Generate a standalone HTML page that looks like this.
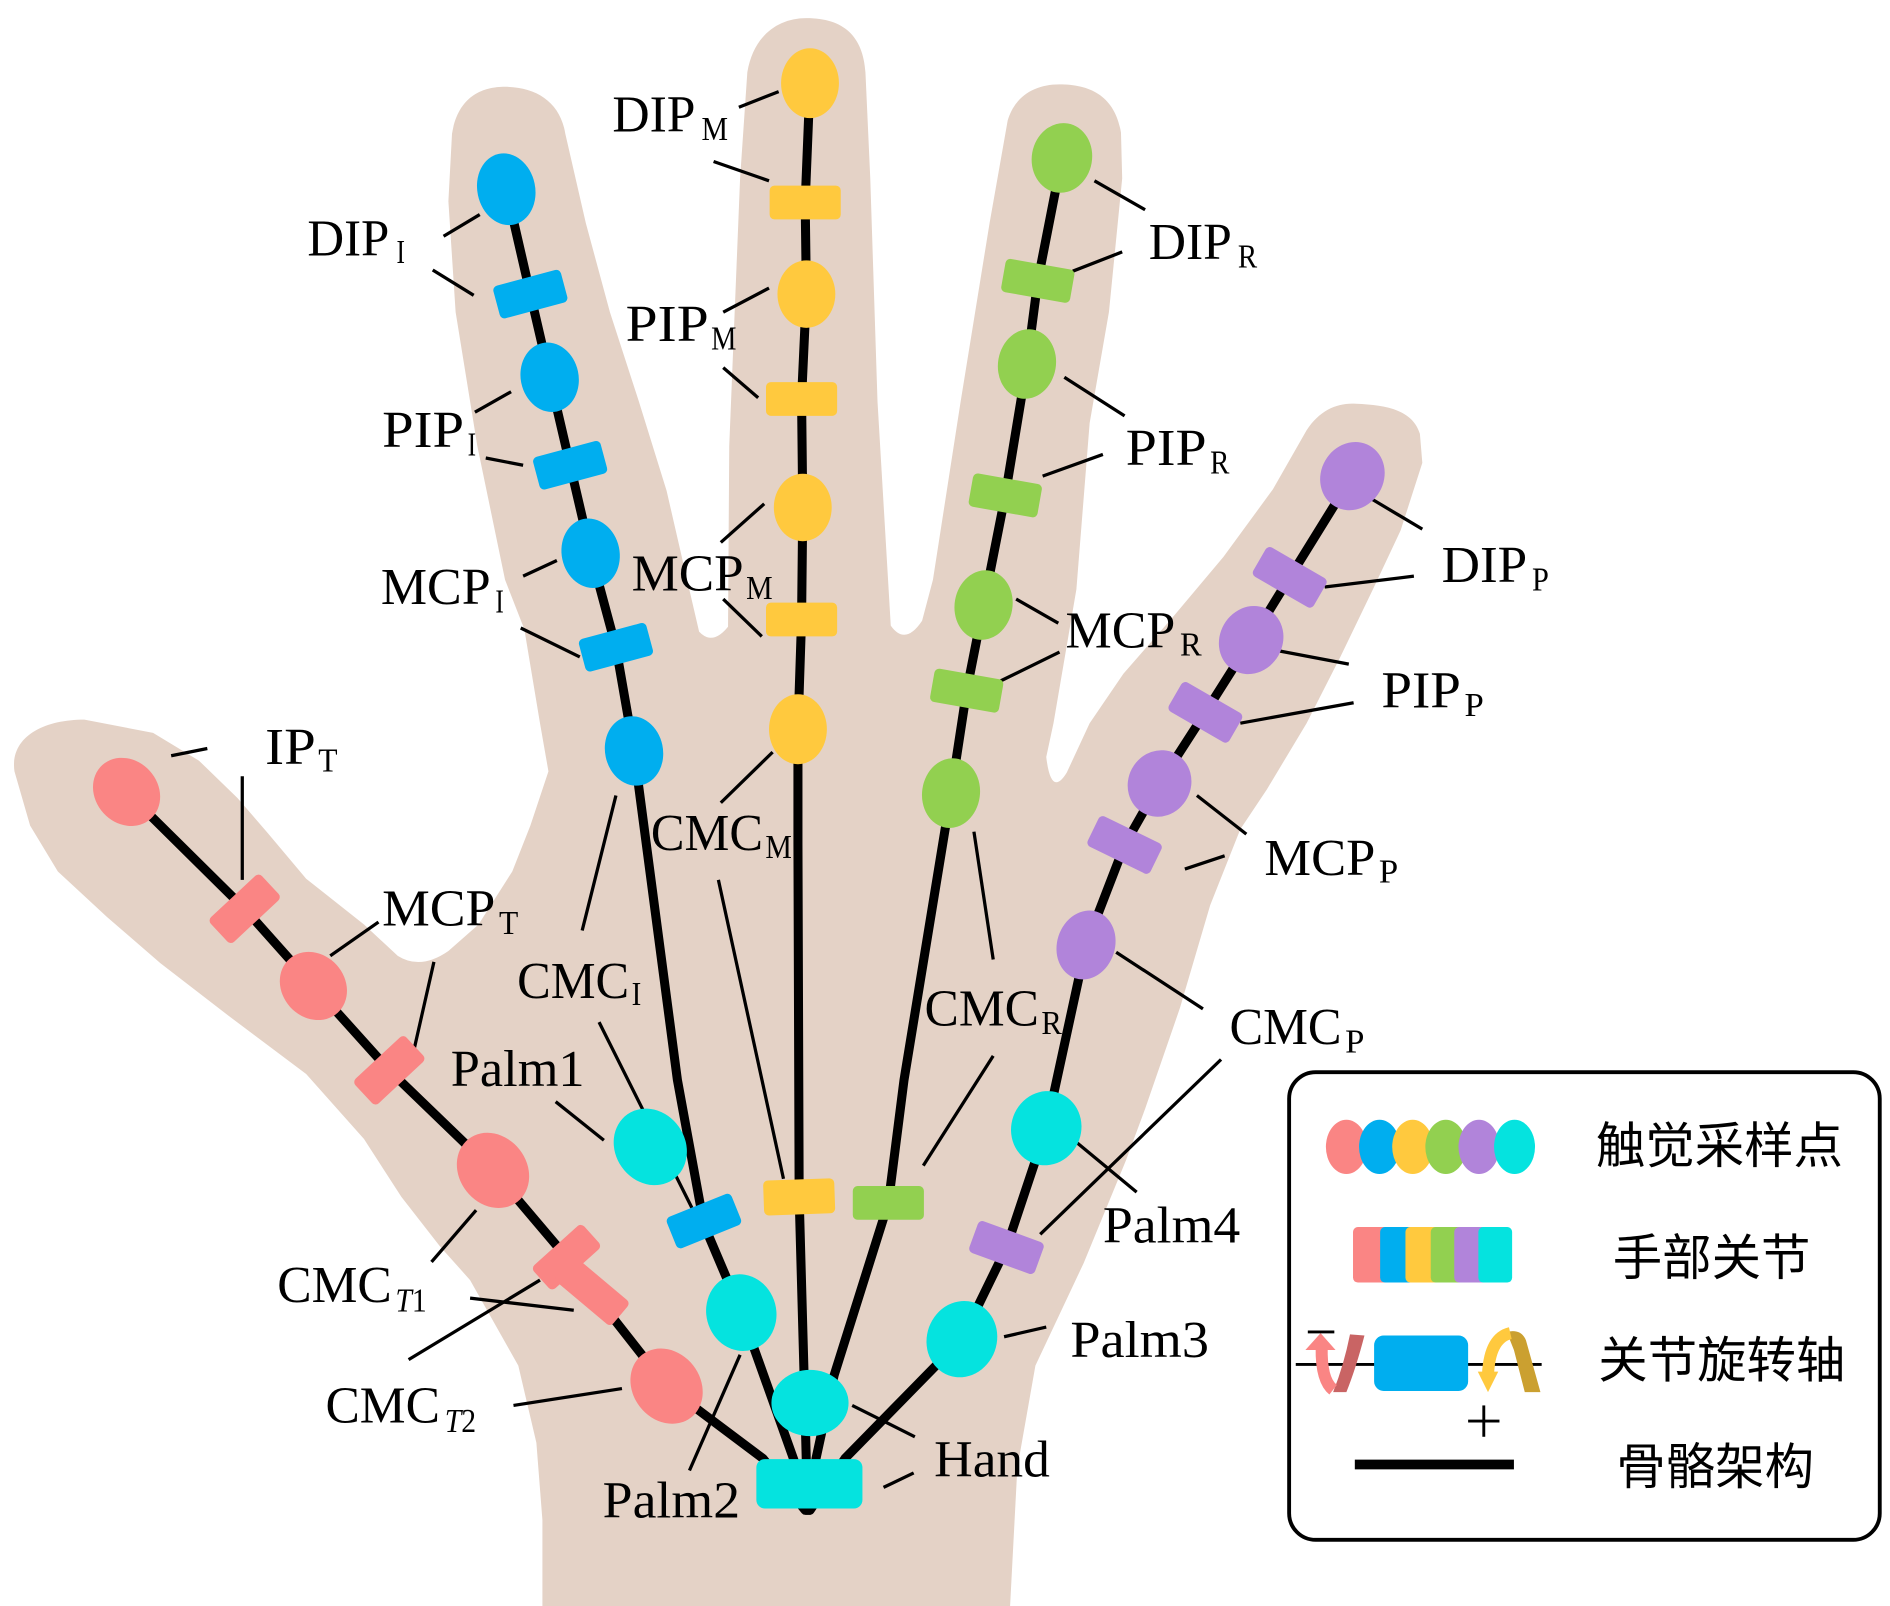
<!DOCTYPE html>
<html><head><meta charset="utf-8"><style>
html,body{margin:0;padding:0;background:#fff;}
svg{display:block;}
.sk{stroke:#000;stroke-width:7.5;fill:none;stroke-linejoin:round;stroke-linecap:round;}
.ld{stroke:#000;stroke-width:2.7;fill:none;}
.t{font-family:"Liberation Serif",serif;font-size:43px;fill:#000;}
.s{font-family:"Liberation Serif",serif;font-size:28px;fill:#000;}
.c{font-family:"Liberation Sans","Noto Sans CJK SC",sans-serif;font-size:41px;fill:#000;}
</style></head><body>
<svg xmlns="http://www.w3.org/2000/svg" width="1890" height="1606" viewBox="0 0 1568 1332.4" preserveAspectRatio="none">
<rect x="0" y="0" width="1568" height="1332.4" fill="#fff"/>
<path fill="#E4D2C6" d="M12,640 C8,612 35,597 70,597 L127,608 L165,631 L197,662 L222,691 L254,729 L302,767 L330,793 Q349,805 372,789 L397,767 L425,723 L440,685 L455,640 L448,600 L435,522 L419,481 L396,370 L378,259 L372,167 L375,111 C380,80 400,72 419,72 C445,72 465,85 469,111 L486,185 L506,259 L530,333 L553,407 L570,481 L580,524 Q591,536 604,520 L605,370 L614,148 L620,60 C625,30 645,15 669,15 C700,15 716,30 718,60 L722,148 L728,333 L739,519 Q751,536 765,515 L774,481 L797,333 L821,185 L836,100 C842,80 858,70 879,70 C905,70 925,80 930,110 L931,148 L920,259 L904,351 L893,489 L874,600 L868,628 Q872,662 885,641 L904,600 L932,559 L973,512 L1015,462 L1056,406 L1084,357 C1095,340 1110,334 1125,335 C1150,336 1172,340 1178,360 L1180,384 L1162,440 L1139,489 L1112,545 L1084,600 L1051,655 L1029,688 L1004,751 L979,836 L950,920 L934,963 L899,1048 L859,1133 L844,1218 L838,1332.4 L450,1332.4 L450,1261 L445,1197 L430,1133 L390,1062 L365,1034 L333,993 L302,945 L254,891 L190,843 L133,799 L89,761 L48,723 L25,685 Z"/>

<g class="ld">
<line x1="368" y1="196" x2="398" y2="178"/>
<line x1="359" y1="224" x2="393" y2="245"/>
<line x1="394" y1="342" x2="424" y2="325"/>
<line x1="403" y1="380" x2="434" y2="386"/>
<line x1="434" y1="478" x2="462" y2="465"/>
<line x1="432" y1="521" x2="481" y2="545"/>
<line x1="511" y1="660" x2="483" y2="772"/>
<line x1="497" y1="848" x2="574" y2="1002"/>
<line x1="613" y1="89" x2="646" y2="76"/>
<line x1="592" y1="134" x2="638" y2="150"/>
<line x1="600" y1="259" x2="638" y2="239"/>
<line x1="600" y1="305" x2="629" y2="330"/>
<line x1="598" y1="450" x2="634" y2="418"/>
<line x1="600" y1="497" x2="632" y2="528"/>
<line x1="641" y1="624" x2="598" y2="666"/>
<line x1="596" y1="730" x2="650" y2="978"/>
<line x1="908" y1="150" x2="950" y2="174"/>
<line x1="890" y1="225" x2="931" y2="209"/>
<line x1="883" y1="313" x2="933" y2="345"/>
<line x1="865" y1="395" x2="915" y2="377"/>
<line x1="843" y1="497" x2="878" y2="517"/>
<line x1="830" y1="565" x2="879" y2="541"/>
<line x1="808" y1="690" x2="824" y2="796"/>
<line x1="824" y1="876" x2="766" y2="967"/>
<line x1="1138" y1="414" x2="1180" y2="439"/>
<line x1="1099" y1="487" x2="1173" y2="478"/>
<line x1="1061" y1="540" x2="1119" y2="551"/>
<line x1="1029" y1="600" x2="1123" y2="583"/>
<line x1="993" y1="660" x2="1034" y2="692"/>
<line x1="983" y1="721" x2="1016" y2="710"/>
<line x1="926" y1="790" x2="998" y2="837"/>
<line x1="1013" y1="879" x2="863" y2="1024"/>
<line x1="891" y1="946" x2="943" y2="989"/>
<line x1="833" y1="1109" x2="868" y2="1101"/>
<line x1="707" y1="1166" x2="759" y2="1192"/>
<line x1="733" y1="1234" x2="758" y2="1222"/>
<line x1="572" y1="1220" x2="614" y2="1124"/>
<line x1="461" y1="914" x2="501" y2="946"/>
<line x1="142" y1="627" x2="172" y2="621"/>
<line x1="201" y1="644" x2="201" y2="730"/>
<line x1="274" y1="793" x2="314" y2="765"/>
<line x1="360" y1="798" x2="343" y2="873"/>
<line x1="395" y1="1004" x2="358" y2="1047"/>
<line x1="390" y1="1077" x2="476" y2="1087"/>
<line x1="339" y1="1128" x2="448" y2="1062"/>
<line x1="426" y1="1166" x2="516" y2="1152"/>
</g>

<polyline class="sk" points="105,657 203,754 260,818 323,888 409,971 470,1043 491,1071 553,1150 633,1210 668,1253"/>
<polyline class="sk" points="420,157 440,244 456,313 473,386 490,459 511,537 526,623 562,896 584,1016 615,1089 660,1215 669,1253"/>
<polyline class="sk" points="672,69 668,168 669,244 665,331 666,421 665,514 662,605 662,700 663,993 667,1138 670,1253"/>
<polyline class="sk" points="881,131 861,233 852,302 834,411 816,502 802,573 789,658 750,896 737,998 692,1141 677,1210 671,1253"/>
<polyline class="sk" points="1122,395 1070,479 1038,531 1000,591 962,650 933,701 901,784 868,936 835,1035 798,1111 701,1210 672,1253"/>

<g fill="#FA8584">
<ellipse cx="105" cy="657" rx="26" ry="30" transform="rotate(-42 105 657)"/>
<ellipse cx="260" cy="818" rx="26" ry="30" transform="rotate(-42 260 818)"/>
<ellipse cx="409" cy="971" rx="28" ry="33" transform="rotate(-38 409 971)"/>
<ellipse cx="553" cy="1150" rx="28" ry="33" transform="rotate(-38 553 1150)"/>
<rect x="174" y="740" width="58" height="28" rx="4" transform="rotate(-43 203 754)"/>
<rect x="294" y="874" width="58" height="28" rx="4" transform="rotate(-43 323 888)"/>
<rect x="442" y="1030" width="56" height="26" rx="4" transform="rotate(-42 470 1043)"/>
<rect x="460" y="1058" width="62" height="26" rx="4" transform="rotate(40 491 1071)"/>
</g>
<g fill="#00AEEF">
<ellipse cx="420" cy="157" rx="24" ry="30" transform="rotate(-12 420 157)"/>
<ellipse cx="456" cy="313" rx="24" ry="29" transform="rotate(-12 456 313)"/>
<ellipse cx="490" cy="459" rx="24" ry="29" transform="rotate(-12 490 459)"/>
<ellipse cx="526" cy="623" rx="24" ry="29" transform="rotate(-12 526 623)"/>
<rect x="411" y="230" width="58" height="28" rx="4" transform="rotate(-15 440 244)"/>
<rect x="444" y="372" width="58" height="28" rx="4" transform="rotate(-15 473 386)"/>
<rect x="482" y="523" width="58" height="28" rx="4" transform="rotate(-15 511 537)"/>
<rect x="555" y="999" width="58" height="28" rx="4" transform="rotate(-22 584 1013)"/>
</g>
<g fill="#FFC93E">
<ellipse cx="672" cy="69" rx="24" ry="29"/>
<ellipse cx="669" cy="244" rx="24" ry="28"/>
<ellipse cx="666" cy="421" rx="24" ry="28"/>
<ellipse cx="662" cy="605" rx="24" ry="29"/>
<rect x="638.5" y="154" width="59" height="28" rx="4"/>
<rect x="635.5" y="317" width="59" height="28" rx="4"/>
<rect x="635.5" y="500" width="59" height="28" rx="4"/>
<rect x="633.5" y="978.5" width="59" height="29" rx="4" transform="rotate(-2 663 993)"/>
</g>
<g fill="#92D050">
<ellipse cx="881" cy="131" rx="25" ry="29" transform="rotate(10 881 131)"/>
<ellipse cx="852" cy="302" rx="24" ry="29" transform="rotate(10 852 302)"/>
<ellipse cx="816" cy="502" rx="24" ry="29" transform="rotate(10 816 502)"/>
<ellipse cx="789" cy="658" rx="24" ry="29" transform="rotate(8 789 658)"/>
<rect x="832" y="219" width="58" height="28" rx="4" transform="rotate(10 861 233)"/>
<rect x="805" y="397" width="58" height="28" rx="4" transform="rotate(10 834 411)"/>
<rect x="773" y="559" width="58" height="28" rx="4" transform="rotate(10 802 573)"/>
<rect x="707.5" y="984" width="59" height="28" rx="4"/>
</g>
<g fill="#B184DA">
<ellipse cx="1122" cy="395" rx="26" ry="29" transform="rotate(30 1122 395)"/>
<ellipse cx="1038" cy="531" rx="26" ry="29" transform="rotate(30 1038 531)"/>
<ellipse cx="962" cy="650" rx="26" ry="28" transform="rotate(28 962 650)"/>
<ellipse cx="901" cy="784" rx="24" ry="29" transform="rotate(18 901 784)"/>
<rect x="1041" y="465" width="58" height="28" rx="4" transform="rotate(30 1070 479)"/>
<rect x="971" y="577" width="58" height="28" rx="4" transform="rotate(30 1000 591)"/>
<rect x="904" y="687" width="58" height="28" rx="4" transform="rotate(26 933 701)"/>
<rect x="806" y="1021" width="58" height="28" rx="4" transform="rotate(20 835 1035)"/>
</g>
<g fill="#05E3DF">
<ellipse cx="539.5" cy="951.5" rx="29" ry="33" transform="rotate(-35 539.5 951.5)"/>
<ellipse cx="615" cy="1089" rx="29" ry="32" transform="rotate(-15 615 1089)"/>
<ellipse cx="672" cy="1164" rx="32" ry="27.5"/>
<ellipse cx="798" cy="1111" rx="29" ry="32" transform="rotate(20 798 1111)"/>
<ellipse cx="868" cy="936" rx="29" ry="31" transform="rotate(20 868 936)"/>
<rect x="627.5" y="1210.5" width="88" height="41" rx="7"/>
</g>

<text class="t" x="255" y="212" textLength="68" lengthAdjust="spacingAndGlyphs">DIP</text><text class="s" x="329" y="218" textLength="7" lengthAdjust="spacingAndGlyphs">I</text>
<text class="t" x="508" y="109" textLength="69" lengthAdjust="spacingAndGlyphs">DIP</text><text class="s" x="582" y="116" textLength="22" lengthAdjust="spacingAndGlyphs">M</text>
<text class="t" x="953" y="215" textLength="69" lengthAdjust="spacingAndGlyphs">DIP</text><text class="s" x="1027" y="222" textLength="16" lengthAdjust="spacingAndGlyphs">R</text>
<text class="t" x="317" y="371" textLength="68" lengthAdjust="spacingAndGlyphs">PIP</text><text class="s" x="388" y="378" textLength="7" lengthAdjust="spacingAndGlyphs">I</text>
<text class="t" x="519" y="283" textLength="69" lengthAdjust="spacingAndGlyphs">PIP</text><text class="s" x="590" y="290" textLength="21" lengthAdjust="spacingAndGlyphs">M</text>
<text class="t" x="934" y="386" textLength="67" lengthAdjust="spacingAndGlyphs">PIP</text><text class="s" x="1004" y="393" textLength="16" lengthAdjust="spacingAndGlyphs">R</text>
<text class="t" x="1196" y="483" textLength="71" lengthAdjust="spacingAndGlyphs">DIP</text><text class="s" x="1271" y="490" textLength="14" lengthAdjust="spacingAndGlyphs">P</text>
<text class="t" x="316" y="501" textLength="91" lengthAdjust="spacingAndGlyphs">MCP</text><text class="s" x="411" y="508" textLength="7" lengthAdjust="spacingAndGlyphs">I</text>
<text class="t" x="524" y="490" textLength="93" lengthAdjust="spacingAndGlyphs">MCP</text><text class="s" x="619" y="497" textLength="22" lengthAdjust="spacingAndGlyphs">M</text>
<text class="t" x="884" y="537" textLength="91" lengthAdjust="spacingAndGlyphs">MCP</text><text class="s" x="979" y="544" textLength="18" lengthAdjust="spacingAndGlyphs">R</text>
<text class="t" x="1146" y="587" textLength="66" lengthAdjust="spacingAndGlyphs">PIP</text><text class="s" x="1215" y="594" textLength="16" lengthAdjust="spacingAndGlyphs">P</text>
<text class="t" x="220" y="634" textLength="42" lengthAdjust="spacingAndGlyphs">IP</text><text class="s" x="264" y="640" textLength="16" lengthAdjust="spacingAndGlyphs">T</text>
<text class="t" x="540" y="705" textLength="93" lengthAdjust="spacingAndGlyphs">CMC</text><text class="s" x="635" y="712" textLength="22" lengthAdjust="spacingAndGlyphs">M</text>
<text class="t" x="1049" y="726" textLength="92" lengthAdjust="spacingAndGlyphs">MCP</text><text class="s" x="1144" y="732" textLength="16" lengthAdjust="spacingAndGlyphs">P</text>
<text class="t" x="317" y="768" textLength="94" lengthAdjust="spacingAndGlyphs">MCP</text><text class="s" x="414" y="775" textLength="16" lengthAdjust="spacingAndGlyphs">T</text>
<text class="t" x="429" y="828" textLength="93" lengthAdjust="spacingAndGlyphs">CMC</text><text class="s" x="524" y="834" textLength="8" lengthAdjust="spacingAndGlyphs">I</text>
<text class="t" x="767" y="851" textLength="95" lengthAdjust="spacingAndGlyphs">CMC</text><text class="s" x="864" y="858" textLength="17" lengthAdjust="spacingAndGlyphs">R</text>
<text class="t" x="1020" y="866" textLength="93" lengthAdjust="spacingAndGlyphs">CMC</text><text class="s" x="1116" y="873" textLength="16" lengthAdjust="spacingAndGlyphs">P</text>
<text class="t" x="374" y="901" textLength="111" lengthAdjust="spacingAndGlyphs">Palm1</text>
<text class="t" x="915" y="1031" textLength="114" lengthAdjust="spacingAndGlyphs">Palm4</text>
<text class="t" x="230" y="1080" textLength="95" lengthAdjust="spacingAndGlyphs">CMC</text><text class="s" x="328" y="1088" textLength="26" lengthAdjust="spacingAndGlyphs"><tspan font-style="italic">T</tspan>1</text>
<text class="t" x="888" y="1126" textLength="115" lengthAdjust="spacingAndGlyphs">Palm3</text>
<text class="t" x="270" y="1180" textLength="95" lengthAdjust="spacingAndGlyphs">CMC</text><text class="s" x="369" y="1188" textLength="26" lengthAdjust="spacingAndGlyphs"><tspan font-style="italic">T</tspan>2</text>
<text class="t" x="775" y="1225" textLength="96" lengthAdjust="spacingAndGlyphs">Hand</text>
<text class="t" x="500" y="1259" textLength="114" lengthAdjust="spacingAndGlyphs">Palm2</text>

<rect x="1069.5" y="889.5" width="490" height="388" rx="22" fill="#fff" stroke="#000" stroke-width="3.2"/>
<ellipse cx="1117" cy="951.5" rx="17" ry="22.5" fill="#FA8584"/>
<ellipse cx="1144.5" cy="951.5" rx="17" ry="22.5" fill="#00AEEF"/>
<ellipse cx="1172" cy="951.5" rx="17" ry="22.5" fill="#FFC93E"/>
<ellipse cx="1199.5" cy="951.5" rx="17" ry="22.5" fill="#92D050"/>
<ellipse cx="1227" cy="951.5" rx="17" ry="22.5" fill="#B184DA"/>
<ellipse cx="1256.5" cy="951.5" rx="17" ry="22.5" fill="#05E3DF"/>
<rect x="1122.5" y="1018" width="32" height="46" rx="4" fill="#FA8584"/>
<rect x="1145" y="1018" width="32" height="46" rx="4" fill="#00AEEF"/>
<rect x="1166" y="1018" width="31" height="46" rx="4" fill="#FFC93E"/>
<rect x="1187" y="1018" width="30" height="46" rx="4" fill="#92D050"/>
<rect x="1206.5" y="1018" width="30" height="46" rx="4" fill="#B184DA"/>
<rect x="1226.5" y="1018" width="28" height="46" rx="4" fill="#05E3DF"/>
<line x1="1075" y1="1132" x2="1279" y2="1132" stroke="#000" stroke-width="2.4"/>
<path d="M1120,1107 L1132,1108 Q1125,1135 1117,1155 L1106,1155 Q1115,1132 1120,1107 Z" fill="#C96464"/>
<path d="M1096.5,1118 Q1096,1145 1106,1153" fill="none" stroke="#FA8584" stroke-width="10"/>
<polygon points="1083,1120 1095.6,1106 1108,1120" fill="#FA8584"/>
<line x1="1085" y1="1105" x2="1107" y2="1105" stroke="#000" stroke-width="2.4"/>
<rect x="1140" y="1108" width="78" height="46" rx="8" fill="#00AEEF"/>
<path d="M1250,1105 Q1262,1102 1266,1112 L1278,1155 L1265,1155 L1256,1120 Z" fill="#CBA030"/>
<path d="M1234.5,1140 Q1236,1110 1253,1106" fill="none" stroke="#FFC93E" stroke-width="10"/>
<polygon points="1226,1138 1243,1138 1234.5,1155" fill="#FFC93E"/>
<line x1="1218" y1="1179" x2="1244" y2="1179" stroke="#000" stroke-width="2.4"/>
<line x1="1231" y1="1166" x2="1231" y2="1192" stroke="#000" stroke-width="2.4"/>
<line x1="1124" y1="1215" x2="1256" y2="1215" stroke="#000" stroke-width="8"/>
<text class="c" x="1324" y="965">触觉采样点</text>
<text class="c" x="1338" y="1058">手部关节</text>
<text class="c" x="1326" y="1143">关节旋转轴</text>
<text class="c" x="1341" y="1231">骨骼架构</text>
</svg>
</body></html>
